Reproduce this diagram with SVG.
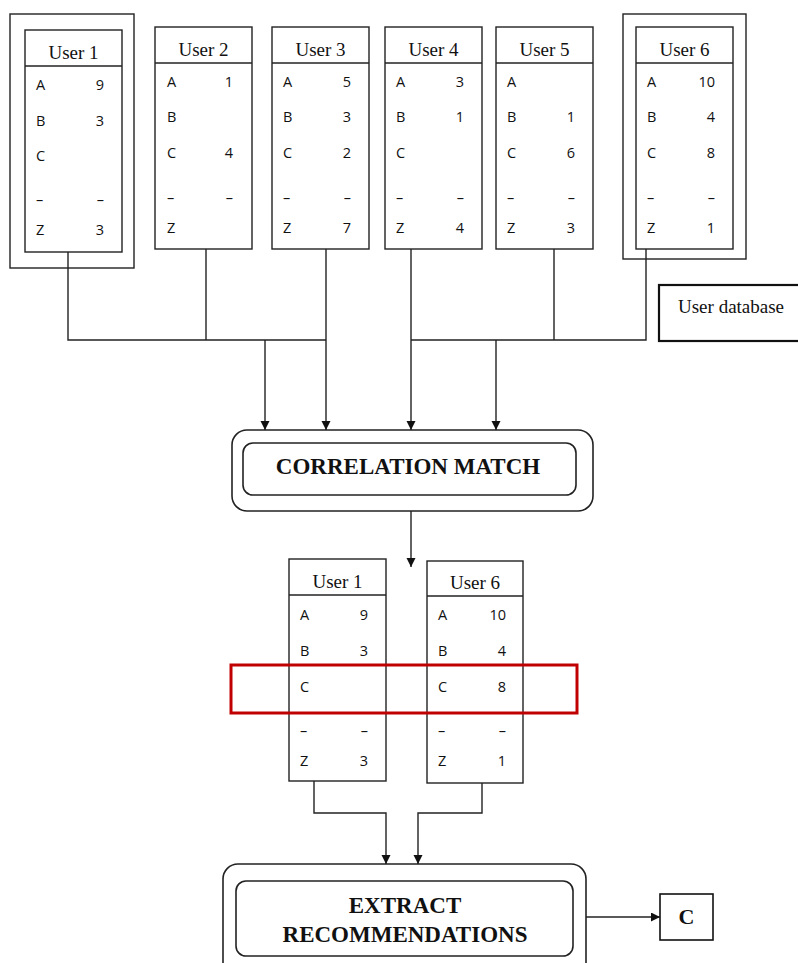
<svg xmlns="http://www.w3.org/2000/svg" width="798" height="963" viewBox="0 0 798 963">
<defs>
<marker id="arr" markerUnits="userSpaceOnUse" markerWidth="9" markerHeight="10" refX="9" refY="4.5" orient="auto">
<path d="M0,0 L9,4.5 L0,9 z" fill="#111"/>
</marker>
<style>
.box{fill:#fff;stroke:#222;stroke-width:1.4}
.hl{stroke:#222;stroke-width:1.4}
.hd{font-family:"Liberation Serif",serif;font-size:19px;fill:#111;text-anchor:middle}
.r{font-family:"Open Sans","Noto Sans",sans-serif;font-size:14.5px;fill:#111}
.v{font-family:"Open Sans","Noto Sans",sans-serif;font-size:14.5px;fill:#111;text-anchor:end}
.big{font-family:"Liberation Serif",serif;font-size:23px;font-weight:bold;fill:#111;text-anchor:middle}
.ln{fill:none;stroke:#222;stroke-width:1.4}
.rr{fill:#fff;stroke:#222;stroke-width:1.6}
</style>
</defs>
<rect width="798" height="963" fill="#fff"/>

<g id="user1">
<rect class="box" x="10" y="14" width="124" height="254"/>
<rect class="box" x="25" y="30" width="97" height="222"/>
<line class="hl" x1="25" y1="66" x2="122" y2="66"/>
<text class="hd" x="73.5" y="59">User 1</text>
<text class="r" x="36" y="90">A</text><text class="v" x="104" y="90">9</text>
<text class="r" x="36" y="126">B</text><text class="v" x="104" y="126">3</text>
<text class="r" x="36" y="161">C</text>
<text class="r" x="36" y="205">–</text><text class="v" x="104" y="205">–</text>
<text class="r" x="36" y="235">Z</text><text class="v" x="104" y="235">3</text>
</g>

<g id="user2">
<rect class="box" x="155" y="27" width="97" height="222"/>
<line class="hl" x1="155" y1="63" x2="252" y2="63"/>
<text class="hd" x="203.5" y="56">User 2</text>
<text class="r" x="167" y="87">A</text><text class="v" x="233" y="87">1</text>
<text class="r" x="167" y="122">B</text>
<text class="r" x="167" y="158">C</text><text class="v" x="233" y="158">4</text>
<text class="r" x="167" y="203">–</text><text class="v" x="233" y="203">–</text>
<text class="r" x="167" y="233">Z</text>
</g>

<g id="user3">
<rect class="box" x="272" y="27" width="97" height="222"/>
<line class="hl" x1="272" y1="63" x2="369" y2="63"/>
<text class="hd" x="320.5" y="56">User 3</text>
<text class="r" x="283" y="87">A</text><text class="v" x="351" y="87">5</text>
<text class="r" x="283" y="122">B</text><text class="v" x="351" y="122">3</text>
<text class="r" x="283" y="158">C</text><text class="v" x="351" y="158">2</text>
<text class="r" x="283" y="203">–</text><text class="v" x="351" y="203">–</text>
<text class="r" x="283" y="233">Z</text><text class="v" x="351" y="233">7</text>
</g>

<g id="user4">
<rect class="box" x="385" y="27" width="97" height="222"/>
<line class="hl" x1="385" y1="63" x2="482" y2="63"/>
<text class="hd" x="433.5" y="56">User 4</text>
<text class="r" x="396" y="87">A</text><text class="v" x="464" y="87">3</text>
<text class="r" x="396" y="122">B</text><text class="v" x="464" y="122">1</text>
<text class="r" x="396" y="158">C</text>
<text class="r" x="396" y="203">–</text><text class="v" x="464" y="203">–</text>
<text class="r" x="396" y="233">Z</text><text class="v" x="464" y="233">4</text>
</g>

<g id="user5">
<rect class="box" x="496" y="27" width="97" height="222"/>
<line class="hl" x1="496" y1="63" x2="593" y2="63"/>
<text class="hd" x="544.5" y="56">User 5</text>
<text class="r" x="507" y="87">A</text>
<text class="r" x="507" y="122">B</text><text class="v" x="575" y="122">1</text>
<text class="r" x="507" y="158">C</text><text class="v" x="575" y="158">6</text>
<text class="r" x="507" y="203">–</text><text class="v" x="575" y="203">–</text>
<text class="r" x="507" y="233">Z</text><text class="v" x="575" y="233">3</text>
</g>

<g id="user6">
<rect class="box" x="623" y="14" width="123" height="245"/>
<rect class="box" x="636" y="27" width="97" height="222"/>
<line class="hl" x1="636" y1="63" x2="733" y2="63"/>
<text class="hd" x="684.5" y="56">User 6</text>
<text class="r" x="647" y="87">A</text><text class="v" x="715" y="87">10</text>
<text class="r" x="647" y="122">B</text><text class="v" x="715" y="122">4</text>
<text class="r" x="647" y="158">C</text><text class="v" x="715" y="158">8</text>
<text class="r" x="647" y="203">–</text><text class="v" x="715" y="203">–</text>
<text class="r" x="647" y="233">Z</text><text class="v" x="715" y="233">1</text>
</g>

<g id="userdb">
<rect x="659" y="285" width="145" height="56" fill="#fff" stroke="#111" stroke-width="2.2"/>
<text x="678" y="313" style="font-family:'Liberation Serif',serif;font-size:19px;fill:#111">User database</text>
</g>

<g id="correlation">
<rect class="rr" x="232" y="430" width="361" height="81" rx="15"/>
<rect class="rr" x="243" y="443" width="333" height="52" rx="10"/>
<text class="big" x="408" y="474">CORRELATION MATCH</text>
</g>

<g id="sel-user1">
<rect class="box" x="289" y="559" width="97" height="222"/>
<line class="hl" x1="289" y1="595" x2="386" y2="595"/>
<text class="hd" x="337.5" y="588">User 1</text>
<text class="r" x="300" y="620">A</text><text class="v" x="368" y="620">9</text>
<text class="r" x="300" y="656">B</text><text class="v" x="368" y="656">3</text>
<text class="r" x="300" y="692">C</text>
<text class="r" x="300" y="736">–</text><text class="v" x="368" y="736">–</text>
<text class="r" x="300" y="766">Z</text><text class="v" x="368" y="766">3</text>
</g>

<g id="sel-user6">
<rect class="box" x="427" y="561" width="96" height="222"/>
<line class="hl" x1="427" y1="596" x2="523" y2="596"/>
<text class="hd" x="475" y="589">User 6</text>
<text class="r" x="438" y="620">A</text><text class="v" x="506" y="620">10</text>
<text class="r" x="438" y="656">B</text><text class="v" x="506" y="656">4</text>
<text class="r" x="438" y="692">C</text><text class="v" x="506" y="692">8</text>
<text class="r" x="438" y="736">–</text><text class="v" x="506" y="736">–</text>
<text class="r" x="438" y="766">Z</text><text class="v" x="506" y="766">1</text>
</g>

<g id="highlight">
<rect x="231" y="665" width="346" height="48" fill="none" stroke="#C00000" stroke-width="3"/>
</g>

<g id="extract">
<rect class="rr" x="223" y="864" width="363" height="130" rx="15"/>
<rect class="rr" x="236" y="881" width="337" height="75" rx="10"/>
<text class="big" x="405" y="913">EXTRACT</text>
<text class="big" x="405" y="942">RECOMMENDATIONS</text>
</g>

<g id="result-c">
<rect x="660" y="894" width="53" height="46" fill="#fff" stroke="#111" stroke-width="1.6"/>
<text class="big" x="686.5" y="924" style="font-size:22px">C</text>
</g>

<g id="connectors">
<path class="ln" d="M68,252 V340 H326"/>
<path class="ln" d="M206,249 V340"/>
<path class="ln" d="M326,249 V430" marker-end="url(#arr)"/>
<path class="ln" d="M265,340 V430" marker-end="url(#arr)"/>
<path class="ln" d="M411,249 V430" marker-end="url(#arr)"/>
<path class="ln" d="M411,340 H646 V249"/>
<path class="ln" d="M554,249 V340"/>
<path class="ln" d="M496,340 V430" marker-end="url(#arr)"/>
<path class="ln" d="M411,511 V567" marker-end="url(#arr)"/>
<path class="ln" d="M314,781 V813 H386 V864" marker-end="url(#arr)"/>
<path class="ln" d="M482,783 V813 H418 V864" marker-end="url(#arr)"/>
<path class="ln" d="M586,917 H660" marker-end="url(#arr)"/>
</g>
</svg>
